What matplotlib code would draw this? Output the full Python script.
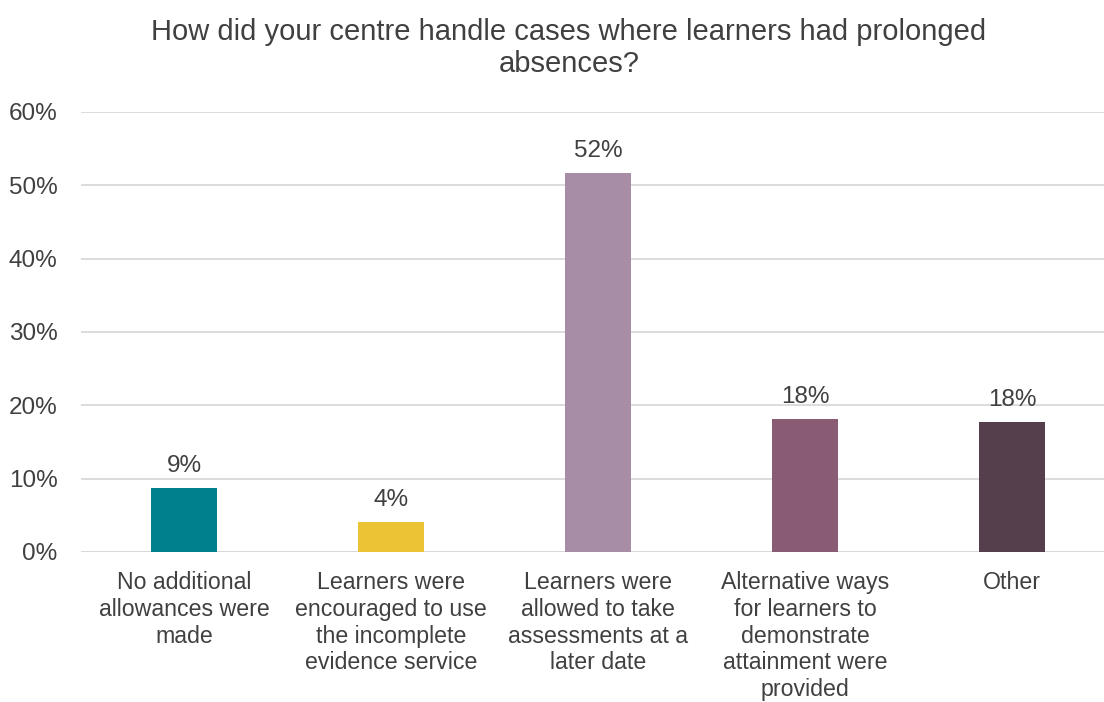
import numpy as np
import matplotlib
matplotlib.use("Agg")
import matplotlib.pyplot as plt
import matplotlib.ticker as mticker

plt.rcParams["font.family"] = ["Liberation Sans", "DejaVu Sans"]

# ── Data ──────────────────────────────────────────────────────────────────────
categories = [
    "No additional\nallowances were\nmade",
    "Learners were\nencouraged to use\nthe incomplete\nevidence service",
    "Learners were\nallowed to take\nassessments at a\nlater date",
    "Alternative ways\nfor learners to\ndemonstrate\nattainment were\nprovided",
    "Other",
]
shares = [0.087, 0.041, 0.517, 0.181, 0.177]
share_labels = ["9%", "4%", "52%", "18%", "18%"]
bar_colors = ["#00808C", "#EBC334", "#A78EA6", "#8A5C74", "#553F4C"]

TEXT = "#404040"
GRID = "#D9D9D9"
FS = 17.5

# ── Figure ────────────────────────────────────────────────────────────────────
fig = plt.figure(figsize=(11.04, 7.02), dpi=100)
ax = fig.add_axes([81 / 1104, 150 / 702, (1104 - 81) / 1104, 440 / 702])

x = np.arange(len(categories))
ax.bar(x, shares, width=0.32, color=bar_colors, zorder=3)

for xi, v, lab in zip(x, shares, share_labels):
    ax.annotate(lab, (xi, v), xytext=(0, 8), textcoords="offset points",
                ha="center", va="bottom", fontsize=FS, color=TEXT)

ax.set_xlim(-0.4976, 4.444)
ax.set_ylim(0, 0.6)
ax.yaxis.set_major_locator(mticker.MultipleLocator(0.1))
ax.yaxis.set_major_formatter(mticker.PercentFormatter(1.0, decimals=0))
ax.grid(axis="y", color=GRID, linewidth=1.3, zorder=0)

ax.set_xticks(x)
ax.set_xticklabels(categories, fontsize=16.7, color=TEXT)
plt.setp(ax.get_xticklabels(), linespacing=1.2)
ax.tick_params(axis="x", length=0, pad=14)
ax.tick_params(axis="y", length=0, pad=17, labelsize=FS, labelcolor=TEXT)

for s in ax.spines.values():
    s.set_visible(False)
ax.axhline(0, color=GRID, linewidth=1.3, zorder=2)

fig.text(569 / 1104, 1 - 48 / 702,
         "How did your centre handle cases where learners had prolonged\nabsences?",
         ha="center", va="center", fontsize=21, color=TEXT, linespacing=1.2)

fig.savefig("out.png", dpi=100)
